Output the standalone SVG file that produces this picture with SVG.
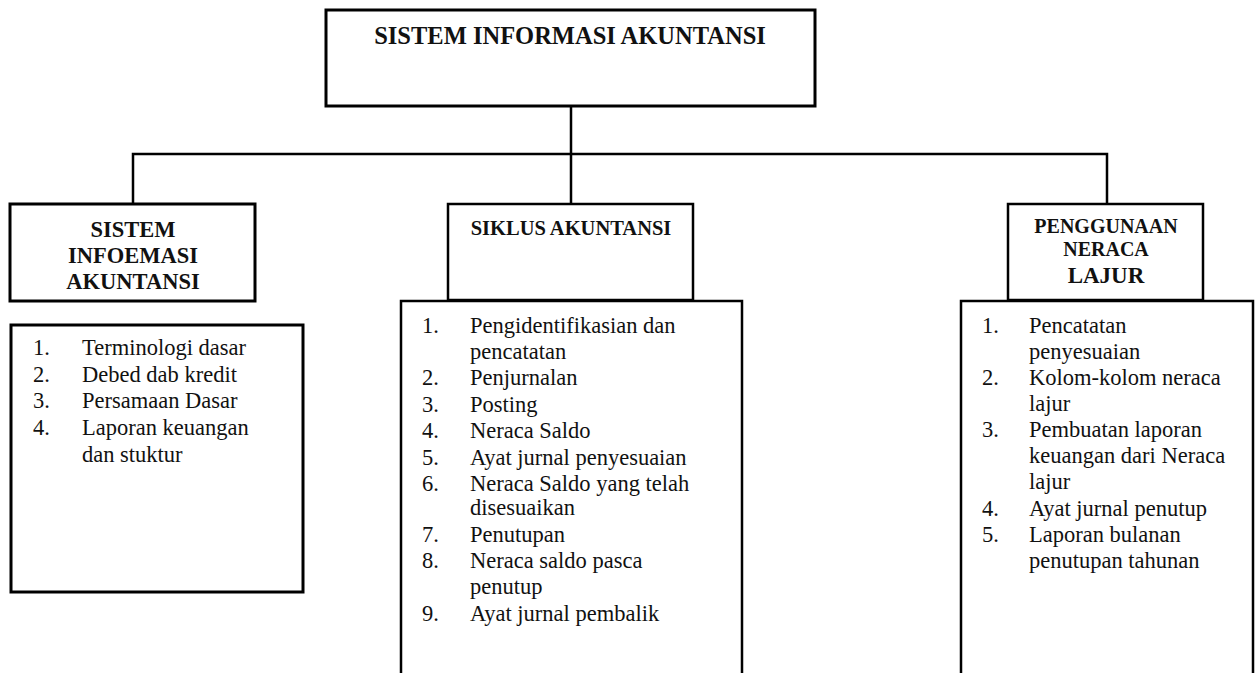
<svg xmlns="http://www.w3.org/2000/svg" width="1258" height="673" viewBox="0 0 1258 673">
<style>
.box{fill:#fff;stroke:#000;stroke-width:2.5}
.thick{stroke-width:3}
.hd{font-weight:bold;fill:#111;text-anchor:middle}
.li{font-size:22.5px;fill:#111}
.conn{fill:none;stroke:#000;stroke-width:2.5}
</style>
<rect width="1258" height="673" fill="#fff"/>
<g id="connectors">
<path class="conn" d="M571 106 V203 M133 203 V154 H1107 V203"/>
</g>
<g font-family="'Liberation Serif', 'Times New Roman', serif">
<g id="root">
<rect class="box thick" x="326" y="10" width="489" height="96"/>
<text class="hd" x="570" y="44" font-size="24.5">SISTEM INFORMASI AKUNTANSI</text>
</g>
<g id="sia-head">
<rect class="box thick" x="10" y="204" width="245" height="97"/>
<text class="hd" x="133" y="237" font-size="22.5">SISTEM</text>
<text class="hd" x="133" y="263" font-size="22.5">INFOEMASI</text>
<text class="hd" x="133" y="289" font-size="22.5">AKUNTANSI</text>
</g>
<g id="sia-list">
<rect class="box thick" x="11" y="325" width="292" height="267"/>
<text class="li"><tspan x="33" y="355">1.</tspan><tspan x="82" y="355">Terminologi dasar</tspan>
<tspan x="33" y="382">2.</tspan><tspan x="82" y="382">Debed dab kredit</tspan>
<tspan x="33" y="408">3.</tspan><tspan x="82" y="408">Persamaan Dasar</tspan>
<tspan x="33" y="435">4.</tspan><tspan x="82" y="435">Laporan keuangan</tspan>
<tspan x="82" y="462">dan stuktur</tspan></text>
</g>
<g id="siklus-head">
<rect class="box" x="448" y="204" width="245" height="96"/>
<text class="hd" x="571" y="235" font-size="20.5">SIKLUS AKUNTANSI</text>
</g>
<g id="siklus-list">
<path class="box" d="M401 680 V301 H742 V680"/>
<text class="li"><tspan x="422" y="333">1.</tspan><tspan x="470" y="333">Pengidentifikasian dan</tspan>
<tspan x="470" y="359">pencatatan</tspan>
<tspan x="422" y="385">2.</tspan><tspan x="470" y="385">Penjurnalan</tspan>
<tspan x="422" y="412">3.</tspan><tspan x="470" y="412">Posting</tspan>
<tspan x="422" y="438">4.</tspan><tspan x="470" y="438">Neraca Saldo</tspan>
<tspan x="422" y="465">5.</tspan><tspan x="470" y="465">Ayat jurnal penyesuaian</tspan>
<tspan x="422" y="491">6.</tspan><tspan x="470" y="491">Neraca Saldo yang telah</tspan>
<tspan x="470" y="515">disesuaikan</tspan>
<tspan x="422" y="542">7.</tspan><tspan x="470" y="542">Penutupan</tspan>
<tspan x="422" y="568">8.</tspan><tspan x="470" y="568">Neraca saldo pasca</tspan>
<tspan x="470" y="594">penutup</tspan>
<tspan x="422" y="621">9.</tspan><tspan x="470" y="621">Ayat jurnal pembalik</tspan></text>
</g>
<g id="neraca-head">
<rect class="box" x="1008" y="204" width="195" height="96"/>
<text class="hd" x="1106" y="233" font-size="20">PENGGUNAAN</text>
<text class="hd" x="1106" y="256" font-size="20">NERACA</text>
<text class="hd" x="1106" y="283" font-size="23">LAJUR</text>
</g>
<g id="neraca-list">
<path class="box" d="M961 680 V301 H1253 V680"/>
<text class="li"><tspan x="982" y="333">1.</tspan><tspan x="1029" y="333">Pencatatan</tspan>
<tspan x="1029" y="359">penyesuaian</tspan>
<tspan x="982" y="385">2.</tspan><tspan x="1029" y="385">Kolom-kolom neraca</tspan>
<tspan x="1029" y="411">lajur</tspan>
<tspan x="982" y="437">3.</tspan><tspan x="1029" y="437">Pembuatan laporan</tspan>
<tspan x="1029" y="463">keuangan dari Neraca</tspan>
<tspan x="1029" y="489">lajur</tspan>
<tspan x="982" y="516">4.</tspan><tspan x="1029" y="516">Ayat jurnal penutup</tspan>
<tspan x="982" y="542">5.</tspan><tspan x="1029" y="542">Laporan bulanan</tspan>
<tspan x="1029" y="568">penutupan tahunan</tspan></text>
</g>
</g>
</svg>
